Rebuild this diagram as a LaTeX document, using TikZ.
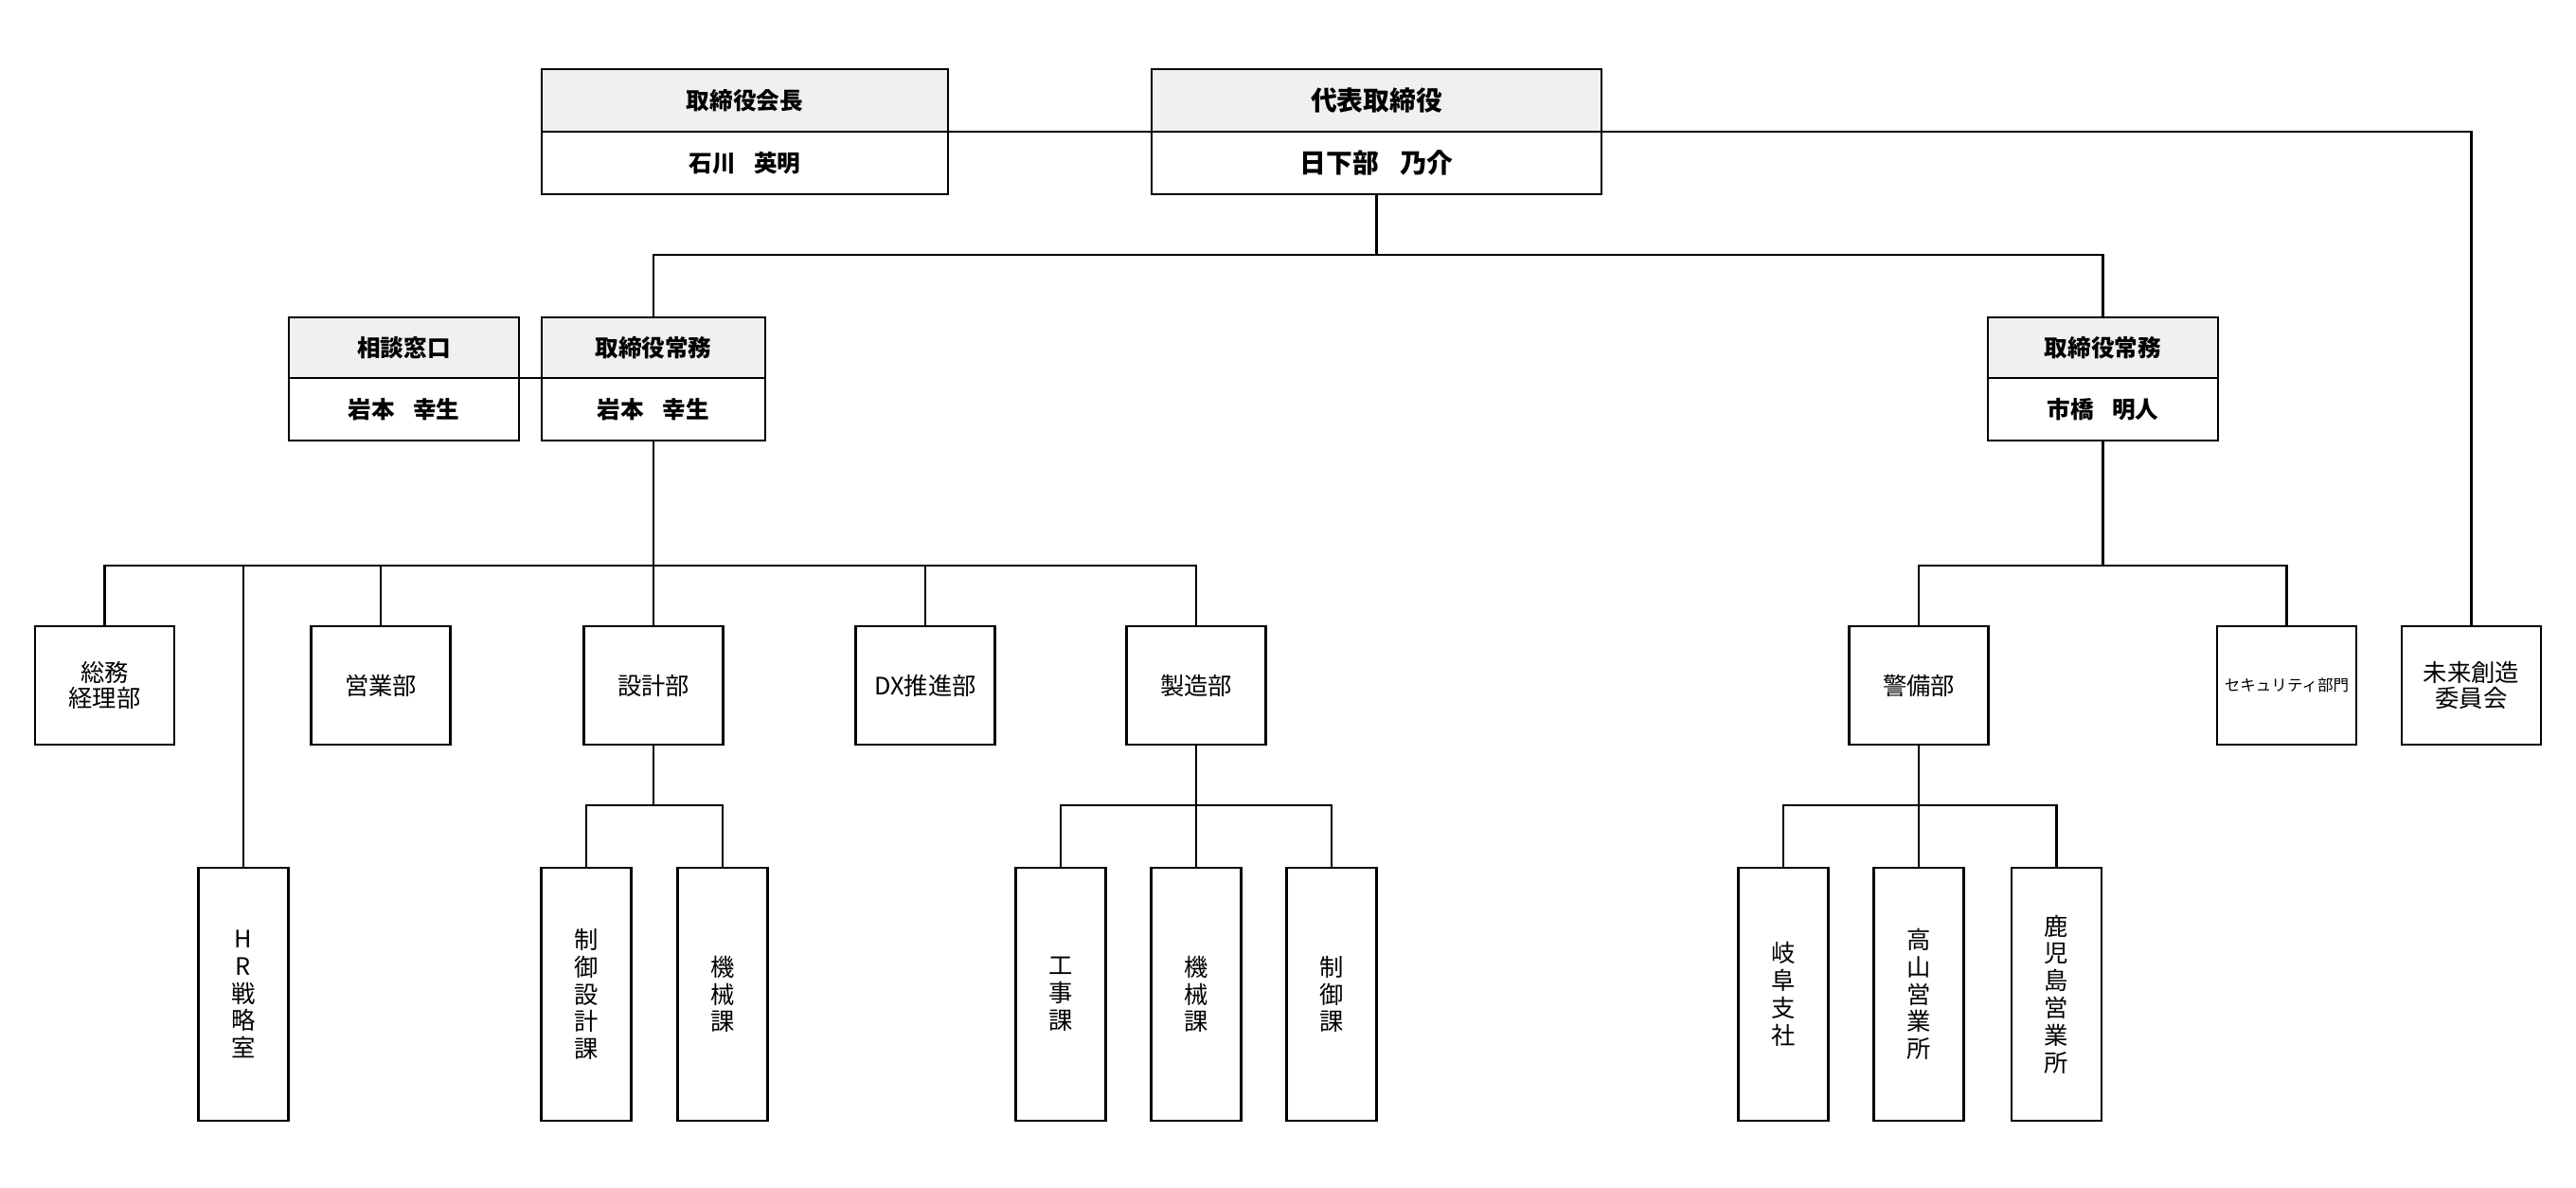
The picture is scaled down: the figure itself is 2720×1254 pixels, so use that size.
\documentclass[tikz,border=0pt]{standalone}
\usepackage{fontspec}
\setmainfont{Noto Sans CJK JP}
\usetikzlibrary{calc}
\usetikzlibrary{positioning}
\definecolor{headgray}{HTML}{F0F0F0}
\tikzset{posthead/.style={draw=black,fill=headgray,line width=0.7pt,inner sep=0pt,outer sep=0pt,minimum height=0.66cm,font=\fontsize{7}{8.2}\selectfont\bfseries}}
\tikzset{postname/.style={draw=black,fill=white,line width=0.7pt,inner sep=0pt,outer sep=0pt,minimum height=0.66cm,font=\fontsize{7}{8.2}\selectfont\bfseries}}
\tikzset{dept/.style={draw=black,line width=0.7pt,inner sep=0pt,outer sep=0pt,minimum width=1.47cm,minimum height=1.25cm,align=center,font=\fontsize{7.2}{7.7}\selectfont}}
\tikzset{sect/.style={draw=black,line width=0.7pt,inner sep=0pt,outer sep=0pt,minimum width=0.95cm,minimum height=2.67cm,align=center,font=\fontsize{7.2}{8.2}\selectfont}}
\tikzset{link/.style={line width=0.6pt}}

\begin{document}
\begin{tikzpicture}[x=0.01cm,y=-0.01cm]

\useasboundingbox (0,0) rectangle (2720,1254);

% top
\node[posthead, minimum width=4.29cm] (kaichoH) at (786.5,106) {取締役会長};
\node[postname, minimum width=4.29cm, below=0pt of kaichoH] (kaicho) {石川\hspace{0.8em}英明};
\node[posthead, minimum width=4.75cm, font=\fontsize{7.9}{9}\selectfont\bfseries] (daihyoH) at (1453.5,106) {代表取締役};
\node[postname, minimum width=4.75cm, font=\fontsize{7.9}{9}\selectfont\bfseries, below=0pt of daihyoH] (daihyo) {日下部\hspace{0.8em}乃介};

\node[posthead, minimum width=2.43cm, minimum height=0.64cm] (soudanH) at (426.5,367) {相談窓口};
\node[postname, minimum width=2.43cm, below=0pt of soudanH] (soudan) {岩本\hspace{0.8em}幸生};
\node[posthead, minimum width=2.36cm, minimum height=0.64cm] (jomuLH) at (690,367) {取締役常務};
\node[postname, minimum width=2.36cm, below=0pt of jomuLH] (jomuL) {岩本\hspace{0.8em}幸生};
\node[posthead, minimum width=2.43cm, minimum height=0.64cm] (jomuRH) at (2220.5,367) {取締役常務};
\node[postname, minimum width=2.43cm, below=0pt of jomuRH] (jomuR) {市橋\hspace{0.8em}明人};

% departments
\node[dept] (somu) at (110.5,723.5) {総務\\経理部};
\node[dept] (eigyo) at (402,723.5) {営業部};
\node[dept] (sekkei) at (690,723.5) {設計部};
\node[dept] (dx) at (977,723.5) {DX推進部};
\node[dept] (seizo) at (1263,723.5) {製造部};
\node[dept] (keibi) at (2026,723.5) {警備部};
\node[dept, font=\fontsize{4.7}{5.5}\selectfont] (secu) at (2414.5,723.5) {セキュリティ部門};
\node[dept] (mirai) at (2609.5,723.5) {未来創造\\委員会};

% sections
\node[sect] (hr) at (257,1049.5) {H\\R\\戦\\略\\室};
\node[sect] (seigyoS) at (619,1049.5) {制\\御\\設\\計\\課};
\node[sect] (kikaiS) at (763,1049.5) {機\\械\\課};
\node[sect] (koji) at (1120,1049.5) {工\\事\\課};
\node[sect] (kikaiZ) at (1263,1049.5) {機\\械\\課};
\node[sect] (seigyoZ) at (1406,1049.5) {制\\御\\課};
\node[sect] (gifu) at (1883,1049.5) {岐\\阜\\支\\社};
\node[sect] (takayama) at (2026,1049.5) {高\\山\\営\\業\\所};
\node[sect] (kagoshima) at (2171.5,1049.5) {鹿\\児\\島\\営\\業\\所};

\coordinate (bus0) at (0,269);
\coordinate (bus1) at (0,597);
\coordinate (bus2) at (0,850);

\draw[link] (kaichoH.south east) -- (daihyoH.south west);
\draw[link] (daihyoH.south east) -| (mirai.north);
\draw[link] (soudanH.south east) -- (jomuLH.south west);

\foreach \c in {jomuLH,jomuRH}
  \draw[link] (daihyo.south) |- (bus0 -| \c.north) -- (\c.north);
\foreach \c in {somu,hr,eigyo,sekkei,dx,seizo}
  \draw[link] (jomuL.south) |- (bus1 -| \c.north) -- (\c.north);
\foreach \c in {keibi,secu}
  \draw[link] (jomuR.south) |- (bus1 -| \c.north) -- (\c.north);
\foreach \c in {seigyoS,kikaiS}
  \draw[link] (sekkei.south) |- (bus2 -| \c.north) -- (\c.north);
\foreach \c in {koji,kikaiZ,seigyoZ}
  \draw[link] (seizo.south) |- (bus2 -| \c.north) -- (\c.north);
\foreach \c in {gifu,takayama,kagoshima}
  \draw[link] (keibi.south) |- (bus2 -| \c.north) -- (\c.north);

\end{tikzpicture}
\end{document}
